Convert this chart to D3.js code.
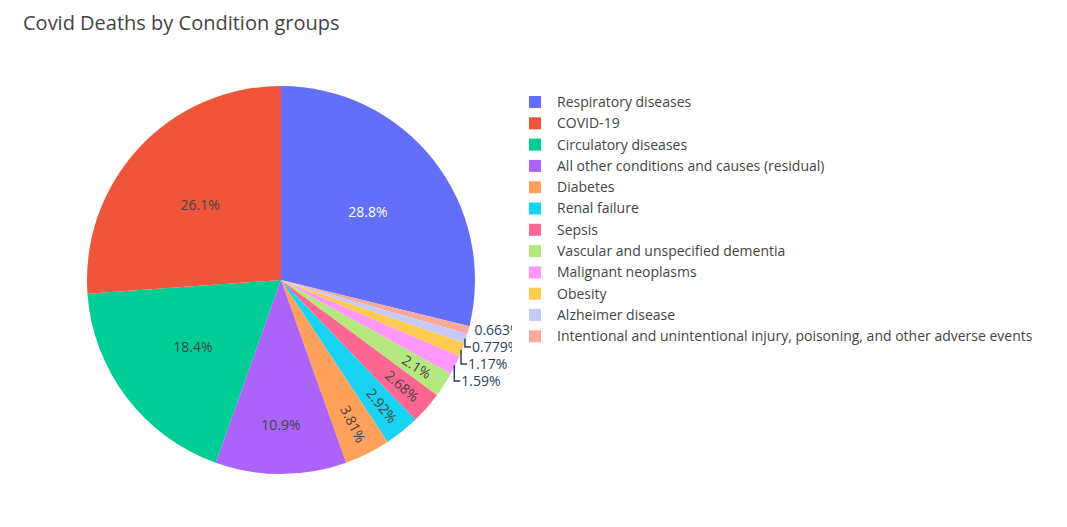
<!DOCTYPE html><html><head><script src="https://cdn.jsdelivr.net/npm/d3@7"></script>
<style>body{margin:0;background:#fff}text{font-family:"Open Sans",Verdana,Arial,sans-serif}</style></head><body>
<svg id="c" width="1067" height="527"></svg>
<script>
const categories=["Respiratory diseases","COVID-19","Circulatory diseases","All other conditions and causes (residual)","Diabetes","Renal failure","Sepsis","Vascular and unspecified dementia","Malignant neoplasms","Obesity","Alzheimer disease","Intentional and unintentional injury, poisoning, and other adverse events"];
const values=[28.8,26.1,18.4,10.9,3.81,2.92,2.68,2.1,1.59,1.17,0.779,0.663];
const labels=["28.8%","26.1%","18.4%","10.9%","3.81%","2.92%","2.68%","2.1%","1.59%","1.17%","0.779%","0.663%"];
const colors=["#636efa","#EF553B","#00cc96","#ab63fa","#FFA15A","#19d3f3","#FF6692","#B6E880","#FF97FF","#FECB52","#c6cafa","#f9a99b"];
const svg=d3.select("#c");
svg.append("text").attr("x",23).attr("y",30).attr("font-size",20).attr("fill","#444").text("Covid Deaths by Condition groups");
const cx=281,cy=280,R=194;
const order=[0].concat(d3.range(values.length-1,0,-1));
const arcs=d3.pie().sort(null).value(i=>values[i])(order);
svg.append("defs").append("clipPath").attr("id","cp").append("rect").attr("x",0).attr("y",0).attr("width",512).attr("height",527);
const g=svg.append("g").attr("transform",`translate(${cx},${cy})`);
const arc=d3.arc().innerRadius(0).outerRadius(R);
g.selectAll("path").data(arcs).join("path").attr("d",arc).attr("fill",d=>colors[d.data]).attr("stroke","#fff").attr("stroke-width",0);
const lg=svg.append("g").attr("clip-path","url(#cp)").append("g").attr("transform",`translate(${cx},${cy})`);
let prevY=-1e9;
arcs.forEach(d=>{
  const i=d.data,m=(d.startAngle+d.endAngle)/2,v=values[i];
  const dark=i===0;
  if(v>=5){
    const rr=R*(v>15?0.57:0.75);
    lg.append("text").attr("x",rr*Math.sin(m)).attr("y",-rr*Math.cos(m)).attr("dy","0.35em").attr("text-anchor","middle").attr("font-size",14).attr("fill",dark?"#fff":"#444").text(labels[i]);
  }else if(v>=2){
    const rr=R*0.83,deg=m*180/Math.PI-90;
    lg.append("text").attr("transform",`translate(${rr*Math.sin(m)},${-rr*Math.cos(m)}) rotate(${deg})`).attr("dy","0.35em").attr("text-anchor","middle").attr("font-size",14).attr("fill","#444").text(labels[i]);
  }else{
    const ex=R*Math.sin(m),ey=-R*Math.cos(m);
    let ty=Math.max(ey,prevY+17);prevY=ty;
    const tx=ex+5;
    if(ty-ey>2) lg.append("path").attr("d",`M${ex-1},${ey}V${ty}H${tx}`).attr("fill","none").attr("stroke","#2a3f5f").attr("stroke-width",1.5);
    lg.append("text").attr("x",tx+1).attr("y",ty).attr("dy","0.35em").attr("font-size",14).attr("fill","#2a3f5f").text(labels[i]);
  }
});
const leg=svg.append("g");
categories.forEach((c,i)=>{
  const y=102+i*21.3;
  leg.append("rect").attr("x",529).attr("y",y-6).attr("width",12).attr("height",12).attr("fill",colors[i]);
  leg.append("text").attr("x",557).attr("y",y).attr("dy","0.35em").attr("font-size",14).attr("fill","#444").text(c);
});
</script></body></html>
